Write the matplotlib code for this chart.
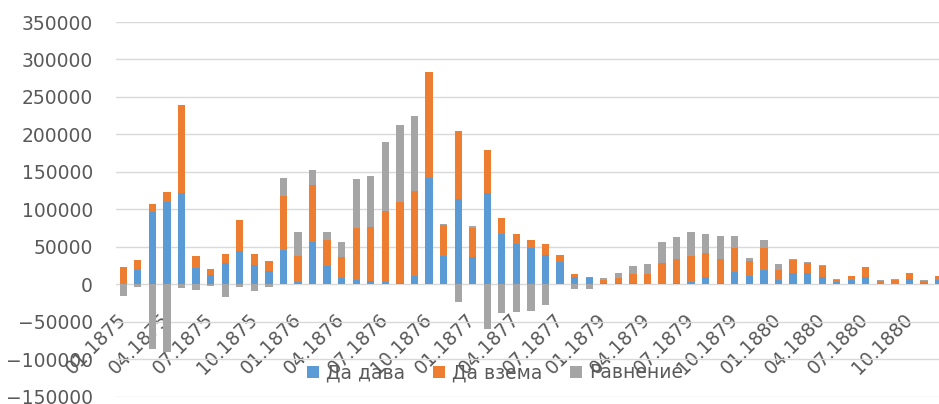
import matplotlib.pyplot as plt
import numpy as np

# Данни по месеци
months = [
    '01.1875', '02.1875', '03.1875', '04.1875', '05.1875', '06.1875',
    '07.1875', '08.1875', '09.1875', '10.1875', '11.1875', '12.1875',
    '01.1876', '02.1876', '03.1876', '04.1876', '05.1876', '06.1876',
    '07.1876', '08.1876', '09.1876', '10.1876', '11.1876', '12.1876',
    '01.1877', '02.1877', '03.1877', '04.1877', '05.1877', '06.1877',
    '07.1877', '11.1878', '12.1878',
    '01.1879', '02.1879', '03.1879', '04.1879', '05.1879', '06.1879',
    '07.1879', '08.1879', '09.1879', '10.1879', '11.1879', '12.1879',
    '01.1880', '02.1880', '03.1880', '04.1880', '05.1880', '06.1880',
    '07.1880', '08.1880', '09.1880', '10.1880', '11.1880', '12.1880',
]

da_dava = [
    1000, 18700, 96100, 109500, 122400, 21800, 12000, 28500, 45000, 25400,
    18200, 46300, 3600, 56500, 24900, 8500, 5800, 4000, 3600, 2200,
    11600, 142400, 38300, 114400, 36500, 122400, 67600, 53400, 48100, 39600,
    30300, 9800, 8500, 1800, 2200, 1800, 900, 500, 1800, 3600,
    10200, 2200, 16400, 11600, 18700, 5300, 15300, 15600, 10200, 2700,
    5300, 9800, 500, 500, 7100, 2200, 5300,
]

da_vzema = [
    22000, 13300, 11600, 13300, 117500, 15600, 8000, 11500, 41300, 14600,
    13400, 71200, 34700, 76100, 34700, 28000, 69000, 72500, 94300, 107300,
    113000, 140600, 40900, 89500, 38700, 57400, 21400, 13400, 11500, 13800,
    9300, 3600, 1800, 3500, 6700, 12400, 12900, 28000, 31600, 34700,
    31600, 31200, 32100, 19100, 29800, 13400, 17000, 12900, 14700, 2600,
    5400, 12900, 3500, 5700, 7600, 2200, 6300,
]

ravnenie = [
    -16000, -3600, -86000, -91000, -4400, -8000, -2700, -17000, -4000, -8900,
    -4000, 24900, 31100, 20500, 9800, 19600, 65800, 68600, 92600, 103700,
    99700, 0, 1000, -23600, 3100, -59200, -38000, -37000, -35000, -27000,
    0, -5800, -6200, 3200, 6700, 10700, 13300, 27600, 29800, 31100,
    25000, 31600, 16500, 4900, 11100, 8400, 1000, 1000, 1000, 1400,
    1000, 1000, 1300, 900, 900, 900, 0,
]

plt.rcParams['font.family'] = ['DejaVu Sans']
text_color = '#595959'

fig = plt.figure(figsize=(9.39, 4.04), dpi=100)
ax = fig.add_axes([116 / 939, 1 - 396.7 / 404, (945.9 - 116) / 939, (396.7 - 22) / 404])

x = np.arange(len(months))
blue = np.array(da_dava)
orange = np.array(da_vzema)
gray = np.array(ravnenie)
w = 0.5

ax.bar(x, blue, w, color='#5B9BD5', label='Да дава')
ax.bar(x, orange, w, bottom=blue, color='#ED7D31', label='Да взема')
# отрицателните стойности тръгват от нулата надолу
gray_bottom = np.where(gray >= 0, blue + orange, 0)
ax.bar(x, gray, w, bottom=gray_bottom, color='#A5A5A5', label='Равнение')

ax.set_ylim(-150000, 350000)
ax.set_yticks(np.arange(-150000, 350001, 50000))
ax.set_xlim(-0.5, len(months) - 0.5)
ax.yaxis.grid(True, color='#d9d9d9', linewidth=1)
ax.set_axisbelow(True)

for s in ax.spines.values():
    s.set_visible(False)
ax.spines['bottom'].set_position(('data', 0))

ax.set_xticks(x[::3])
ax.set_xticklabels(months[::3], rotation=45, ha='right', va='center',
                   rotation_mode='anchor')
ax.tick_params(axis='x', length=0, pad=23, labelsize=13.5, labelcolor=text_color)
ax.tick_params(axis='y', length=0, pad=16.5, labelsize=13.5, labelcolor=text_color)

leg = fig.legend(loc='center', bbox_to_anchor=(0.527, 0.077), ncol=3, frameon=False,
                 handlelength=0.65, handleheight=0.65, handletextpad=0.35,
                 columnspacing=1.5, fontsize=13.5)
for t in leg.get_texts():
    t.set_color(text_color)

fig.savefig('out.png', dpi=100)
